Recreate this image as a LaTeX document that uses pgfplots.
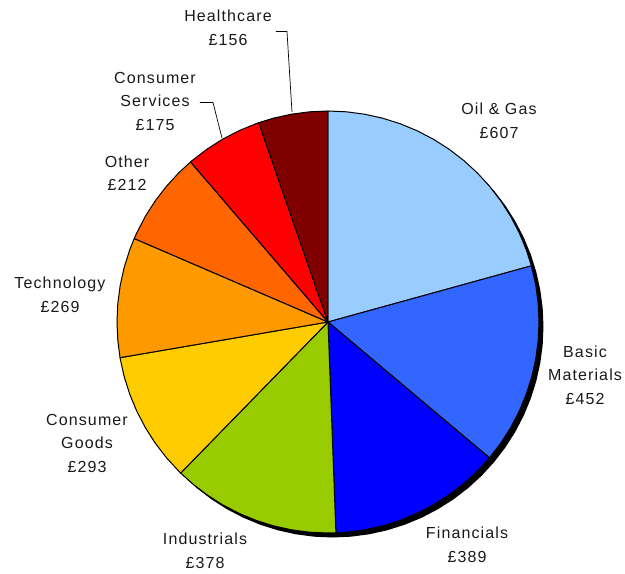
\documentclass[border=0pt]{standalone}
\usepackage{fontspec}
\setmainfont{Liberation Sans}[LetterSpace=7]
\usepackage{pgfplots}
\pgfplotsset{compat=1.18}
\usepgfplotslibrary{polar}

\definecolor{oilgas}{HTML}{99CCFF}
\definecolor{basicmat}{HTML}{3366FF}
\definecolor{financials}{HTML}{0000FF}
\definecolor{industrials}{HTML}{99CC00}
\definecolor{consgoods}{HTML}{FFCC00}
\definecolor{technology}{HTML}{FF9900}
\definecolor{other}{HTML}{FF6600}
\definecolor{consserv}{HTML}{FF0000}
\definecolor{healthcare}{HTML}{800000}

% values (GBP): 607, 452, 389, 378, 293, 269, 212, 175, 156 (total 2931)
% sector edges in degrees, clockwise from 12 o'clock:
% 90, 15.445, -40.072, -87.851, -134.279, -170.266, -203.306, -229.345, -250.840, -270

\begin{document}
\begin{tikzpicture}
  \begin{polaraxis}[
    hide axis,
    clip=false,
    scale only axis,
    width=422pt,
    height=422pt,
    ymin=0, ymax=1,
  ]
    % drop shadow
    \addplot[fill=black, draw=none, xshift=4.5pt, yshift=-4.5pt] coordinates {
      (0,1) (5,1) (10,1) (15,1) (20,1) (25,1) (30,1) (35,1) (40,1) (45,1) (50,1) (55,1)
      (60,1) (65,1) (70,1) (75,1) (80,1) (85,1) (90,1) (95,1) (100,1) (105,1) (110,1) (115,1)
      (120,1) (125,1) (130,1) (135,1) (140,1) (145,1) (150,1) (155,1) (160,1) (165,1) (170,1) (175,1)
      (180,1) (185,1) (190,1) (195,1) (200,1) (205,1) (210,1) (215,1) (220,1) (225,1) (230,1) (235,1)
      (240,1) (245,1) (250,1) (255,1) (260,1) (265,1) (270,1) (275,1) (280,1) (285,1) (290,1) (295,1)
      (300,1) (305,1) (310,1) (315,1) (320,1) (325,1) (330,1) (335,1) (340,1) (345,1) (350,1) (355,1) (360,1)
    };
    % Oil & Gas
    \addplot[fill=oilgas, draw=black, line width=1pt, line join=round] coordinates {
      (0,0) (90,1) (85,1) (80,1) (75,1) (70,1) (65,1) (60,1) (55,1) (50,1) (45,1) (40,1)
      (35,1) (30,1) (25,1) (20,1) (15.445,1) (0,0)
    };
    % Basic Materials
    \addplot[fill=basicmat, draw=black, line width=1pt, line join=round] coordinates {
      (0,0) (15.445,1) (10,1) (5,1) (0,1) (-5,1) (-10,1) (-15,1) (-20,1) (-25,1) (-30,1)
      (-35,1) (-40,1) (-40.072,1) (0,0)
    };
    % Financials
    \addplot[fill=financials, draw=black, line width=1pt, line join=round] coordinates {
      (0,0) (-40.072,1) (-45,1) (-50,1) (-55,1) (-60,1) (-65,1) (-70,1) (-75,1) (-80,1)
      (-85,1) (-87.851,1) (0,0)
    };
    % Industrials
    \addplot[fill=industrials, draw=black, line width=1pt, line join=round] coordinates {
      (0,0) (-87.851,1) (-90,1) (-95,1) (-100,1) (-105,1) (-110,1) (-115,1) (-120,1)
      (-125,1) (-130,1) (-134.279,1) (0,0)
    };
    % Consumer Goods
    \addplot[fill=consgoods, draw=black, line width=1pt, line join=round] coordinates {
      (0,0) (-134.279,1) (-135,1) (-140,1) (-145,1) (-150,1) (-155,1) (-160,1) (-165,1)
      (-170,1) (-170.266,1) (0,0)
    };
    % Technology
    \addplot[fill=technology, draw=black, line width=1pt, line join=round] coordinates {
      (0,0) (-170.266,1) (-175,1) (-180,1) (-185,1) (-190,1) (-195,1) (-200,1) (-203.306,1) (0,0)
    };
    % Other
    \addplot[fill=other, draw=black, line width=1pt, line join=round] coordinates {
      (0,0) (-203.306,1) (-205,1) (-210,1) (-215,1) (-220,1) (-225,1) (-229.345,1) (0,0)
    };
    % Consumer Services
    \addplot[fill=consserv, draw=black, line width=1pt, line join=round] coordinates {
      (0,0) (-229.345,1) (-230,1) (-235,1) (-240,1) (-245,1) (-250,1) (-250.840,1) (0,0)
    };
    % Healthcare
    \addplot[fill=healthcare, draw=black, line width=1pt, line join=round] coordinates {
      (0,0) (-250.840,1) (-255,1) (-260,1) (-265,1) (-270,1) (0,0)
    };
    \coordinate (c) at (axis cs:0,0);
  \end{polaraxis}

  % labels, in pixel units of the 625x574 frame
  \begin{scope}[shift={(c)}, xshift=-328pt, yshift=322pt, x=1pt, y=-1pt,
      lbl/.style={inner sep=0pt, align=center, text=black!90,
        font=\fontsize{16}{23.5}\selectfont}]
    \node[lbl] at (499,121) {Oil \& Gas\\£607};
    \node[lbl] at (585,375) {Basic\\Materials\\£452};
    \node[lbl] at (467,545) {Financials\\£389};
    \node[lbl] at (205,551) {Industrials\\£378};
    \node[lbl] at (87,443) {Consumer\\Goods\\£293};
    \node[lbl] at (60,295) {Technology\\£269};
    \node[lbl] at (127,173) {Other\\£212};
    \node[lbl] at (155,101) {Consumer\\Services\\£175};
    \node[lbl] at (228,28) {Healthcare\\£156};
    \draw[line width=0.7pt] (276,31.5) -- (287,31.5) -- (292,112);
    \draw[line width=0.7pt] (200,102.5) -- (213,102.5) -- (222,138);
    \pgfresetboundingbox
    \path[use as bounding box] (0,0) rectangle (625,574);
  \end{scope}
\end{tikzpicture}
\end{document}
